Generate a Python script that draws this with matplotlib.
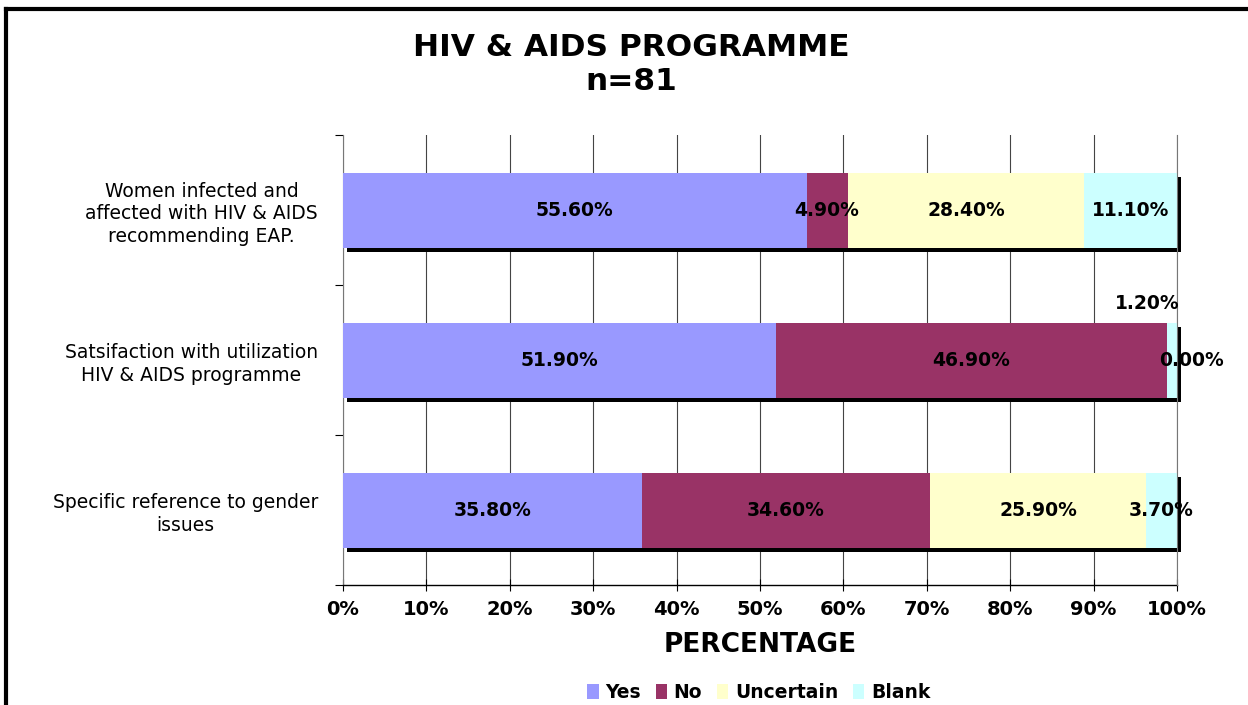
import matplotlib
matplotlib.use("Agg")
import matplotlib.pyplot as plt
import matplotlib.transforms as mtransforms
from matplotlib.lines import Line2D
import numpy as np

# data, top row first
categories = ["Women infected and\naffected with HIV & AIDS\nrecommending EAP.",
              "Satsifaction with utilization\nHIV & AIDS programme",
              "Specific reference to gender\nissues"]
series_names = ["Yes", "No", "Uncertain", "Blank"]
yes = [55.6, 51.9, 35.8]
no = [4.9, 46.9, 34.6]
uncertain = [28.4, 0.0, 25.9]
blank = [11.1, 1.2, 3.7]
colors = ["#9999FF", "#993366", "#FFFFCC", "#CCFFFF"]
xticks = np.arange(0, 101, 10)

fig = plt.figure(figsize=(12.48, 7.05), dpi=100)
ax = fig.add_axes([0.2748, 0.1702, 0.6683, 0.6383])

ypos = np.arange(len(categories))[::-1]  # top category at top
bar_h = 0.5
values = [yes, no, uncertain, blank]

# black drop shadow behind each full bar
totals = np.sum(values, axis=0)
shadow_tr = mtransforms.offset_copy(ax.transData, fig=fig, x=4, y=-4, units="dots")
shadows = ax.barh(ypos, totals, height=bar_h, color="black", transform=shadow_tr, zorder=2)
for p in shadows:
    p.set_clip_on(False)

lab_size = 13.5
left = np.zeros(len(categories))
for name, vals, c in zip(series_names, values, colors):
    vals = np.array(vals)
    ax.barh(ypos, vals, height=bar_h, left=left, color=c, label=name, zorder=3)
    for y, l, v in zip(ypos, left, vals):
        lab = f"{v:.2f}%"
        if v == 0:
            # zero-width segment: Excel pushes the label to the right
            ax.annotate(lab, (l + v / 2, y), xytext=(18, 0), textcoords="offset points",
                        ha="center", va="center", fontsize=lab_size, fontweight="bold",
                        zorder=5, annotation_clip=False)
        elif v < 2:
            ax.annotate(lab, (l + v, y + bar_h / 2), xytext=(2, 14), textcoords="offset points",
                        ha="right", va="center", fontsize=lab_size, fontweight="bold",
                        zorder=5, annotation_clip=False)
        else:
            ax.text(l + v / 2, y, lab, ha="center", va="center",
                    fontsize=lab_size, fontweight="bold", zorder=5)
    left += vals

ax.set_xlim(0, 100)
ax.set_ylim(-0.5, len(categories) - 0.5)
ax.set_xticks(xticks)
ax.set_xticklabels([f"{t}%" for t in xticks], fontsize=14, fontweight="bold")
ax.tick_params(axis="x", direction="inout", length=9, width=0.8, pad=6)
ax.set_yticks(ypos)
ax.set_yticklabels(categories, fontsize=13.5, ha="right", multialignment="center",
                   linespacing=1.25)
ax.tick_params(axis="y", length=0, pad=18)
ax.set_yticks(np.arange(-0.5, len(categories)), minor=True)
ax.tick_params(axis="y", which="minor", length=6, width=0.8, direction="out")
ax.xaxis.grid(True, color="#444444", linewidth=0.8, zorder=0)
ax.set_axisbelow(True)
ax.spines["top"].set_visible(False)
ax.spines["left"].set_color("#777777")
ax.spines["right"].set_color("#777777")
ax.spines["right"].set_zorder(4)
ax.spines["bottom"].set_linewidth(1.0)

ax.set_xlabel("PERCENTAGE", fontsize=19, fontweight="bold", labelpad=10)

fig.text(0.506, 0.933, "HIV & AIDS PROGRAMME", ha="center", va="center",
         fontsize=22.5, fontweight="bold")
fig.text(0.506, 0.884, "n=81", ha="center", va="center", fontsize=22.5, fontweight="bold")

fig.legend(loc="center", bbox_to_anchor=(0.608, 0.018), ncol=4, frameon=False,
           prop={"weight": "bold", "size": 13.5}, handlelength=0.6, handleheight=0.9,
           handletextpad=0.35, columnspacing=0.8, borderaxespad=0)

# outer chart frame (left and top edges visible)
fig.add_artist(Line2D([0.005, 0.005], [0, 0.987], transform=fig.transFigure,
                      color="black", linewidth=3))
fig.add_artist(Line2D([0.005, 1.0], [0.987, 0.987], transform=fig.transFigure,
                      color="black", linewidth=3))

fig.savefig("out.png", dpi=100)
